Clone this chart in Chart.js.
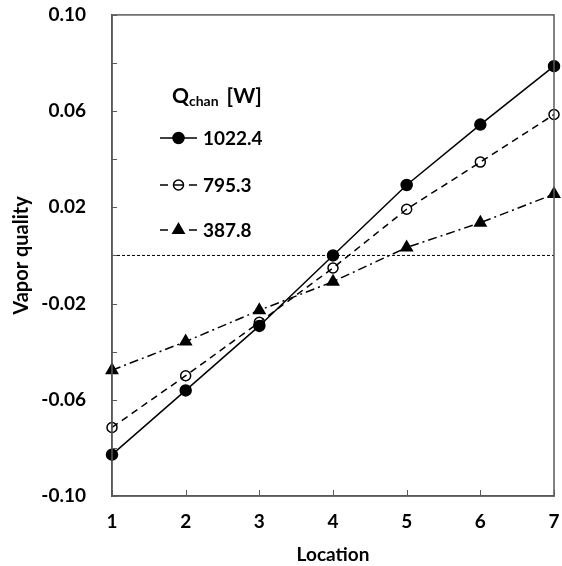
<!DOCTYPE html>
<html>
<head>
<meta charset="utf-8">
<script src="https://cdn.jsdelivr.net/npm/chart.js@4/dist/chart.umd.min.js"></script>
<style>
  html, body { margin: 0; padding: 0; background: #fff; }
  #wrap { width: 562px; height: 566px; }
</style>
</head>
<body>
<div id="wrap"><canvas id="vapor-chart"></canvas></div>
<script>
// Data

const locations = ['1', '2', '3', '4', '5', '6', '7'];
const seriesNames = ['1022.4', '795.3', '387.8'];
const q1022 = [-0.0828, -0.0561, -0.0293, 0.0, 0.0293, 0.0544, 0.0787];
const q795 = [-0.0715, -0.0500, -0.0278, -0.0052, 0.0192, 0.0388, 0.0586];
const q388 = [-0.0477, -0.0358, -0.0228, -0.0109, 0.0033, 0.0136, 0.0255];
const zeroLine = [0, 0, 0, 0, 0, 0, 0];
const yTickLabels = ['-0.10', '-0.06', '-0.02', '0.02', '0.06', '0.10'];

const FONT = 'Lato, "Open Sans", sans-serif';
const frameColor = '#5a5a5a';

// Frame around the plot with inward tick marks

const framePlugin = {
    id: 'frame',
    afterDatasetsDraw(chart) {
        const { ctx, chartArea: a, scales } = chart;
        ctx.save();
        ctx.strokeStyle = frameColor;
        ctx.lineWidth = 1.5;
        ctx.strokeRect(a.left, a.top, a.right - a.left, a.bottom - a.top);
        ctx.lineWidth = 1;
        ctx.beginPath();
        scales.y.ticks.forEach((t, i) => {
            const py = Math.round(scales.y.getPixelForTick(i)) + 0.5;
            ctx.moveTo(a.left, py);
            ctx.lineTo(a.left + 5, py);
        });
        scales.x.ticks.forEach((t, i) => {
            const px = Math.round(scales.x.getPixelForTick(i)) + 0.5;
            ctx.moveTo(px, a.bottom);
            ctx.lineTo(px, a.bottom - 6);
        });
        ctx.stroke();
        ctx.restore();
    }
};

// Legend drawn by hand (title has a subscript)

const legendPlugin = {
    id: 'qLegend',
    afterDraw(chart) {
        const ctx = chart.ctx;
        ctx.save();
        ctx.fillStyle = '#000';
        ctx.textBaseline = 'alphabetic';
        ctx.font = 'bold 21px ' + FONT;
        ctx.fillText('Q', 172, 103);
        let w = ctx.measureText('Q').width;
        ctx.font = 'bold 14px ' + FONT;
        ctx.fillText('chan', 172 + w, 106);
        let w2 = ctx.measureText('chan').width;
        ctx.font = 'bold 21px ' + FONT;
        ctx.fillText('[W]', 172 + w + w2 + 8, 103);

        const rows = [138, 185, 230];
        chart.data.datasets.slice(0, 3).forEach((ds, i) => {
            const y = rows[i];
            ctx.strokeStyle = '#000';
            ctx.lineWidth = 1.5;
            ctx.beginPath();
            if (i === 0) {
                ctx.moveTo(160, y); ctx.lineTo(197, y);
            } else {
                ctx.moveTo(160, y); ctx.lineTo(168, y);
                ctx.moveTo(189, y); ctx.lineTo(197, y);
            }
            ctx.stroke();
            ctx.fillStyle = ds.pointBackgroundColor;
            ctx.strokeStyle = '#000';
            Chart.helpers.drawPoint(ctx, {
                pointStyle: ds.pointStyle,
                radius: ds.pointRadius,
                borderWidth: ds.pointBorderWidth || 1.5
            }, 178.5, y);
            if (i === 1) {
                ctx.beginPath();
                ctx.moveTo(174, y); ctx.lineTo(183, y);
                ctx.stroke();
            }
            ctx.fillStyle = '#000';
            ctx.font = 'bold 19px ' + FONT;
            ctx.textBaseline = 'middle';
            ctx.fillText(seriesNames[i], 203, y + 1);
            ctx.textBaseline = 'alphabetic';
        });
        ctx.restore();
    }
};

const vaporChart = document.getElementById('vapor-chart');

new Chart(vaporChart, {
    type: 'line',
    data: {
        labels: locations,
        datasets: [{
            label: seriesNames[0],
            data: q1022,
            borderColor: '#000',
            borderWidth: 1.5,
            pointStyle: 'circle',
            pointRadius: 5.5,
            pointBackgroundColor: '#000',
            pointBorderColor: '#000',
            tension: 0
        }, {
            label: seriesNames[1],
            data: q795,
            borderColor: '#000',
            borderWidth: 1.5,
            borderDash: [7, 5],
            pointStyle: 'circle',
            pointRadius: 5,
            pointBorderWidth: 1.5,
            pointBackgroundColor: 'transparent',
            pointBorderColor: '#000',
            tension: 0
        }, {
            label: seriesNames[2],
            data: q388,
            borderColor: '#000',
            borderWidth: 1.5,
            borderDash: [9, 4, 2, 4],
            pointStyle: 'triangle',
            pointRadius: 6.5,
            pointBackgroundColor: '#000',
            pointBorderColor: '#000',
            tension: 0
        }, {
            label: 'zero',
            data: zeroLine,
            borderColor: '#000',
            borderWidth: 1,
            borderDash: [3, 2],
            pointRadius: 0,
            order: 10
        }]
    },
    options: {
        responsive: true,
        maintainAspectRatio: false,
        animation: false,
        layout: { padding: { top: 2, right: 7, left: 2, bottom: 0 } },
        plugins: {
            legend: { display: false },
            tooltip: { enabled: false }
        },
        scales: {
            x: {
                offset: false,
                grid: { drawOnChartArea: false, tickLength: 12, color: 'transparent' },
                border: { color: frameColor, width: 1.5 },
                ticks: { color: '#000', font: { family: FONT, size: 19, weight: 'bold' }, padding: 2 },
                title: { display: true, text: 'Location', color: '#000', font: { family: FONT, size: 19, weight: 'bold' }, padding: { top: 8.4, bottom: 0 } }
            },
            y: {
                min: -0.1,
                max: 0.1,
                afterFit: s => { s.width = 110; },
                grid: { drawOnChartArea: false, tickLength: 22.5, color: 'transparent' },
                border: { color: frameColor, width: 1.5 },
                ticks: {
                    stepSize: 0.02,
                    color: '#000',
                    padding: 3.5,
                    font: { family: FONT, size: 19, weight: 'bold' },
                    callback: (v, i) => (i % 2 === 0 ? yTickLabels[i / 2] : '')
                },
                title: { display: true, text: 'Vapor quality', color: '#000', font: { family: FONT, size: 20, weight: 'bold' }, padding: { top: 8, bottom: 0 } }
            }
        }
    },
    plugins: [framePlugin, legendPlugin]
});
</script>
</body>
</html>
